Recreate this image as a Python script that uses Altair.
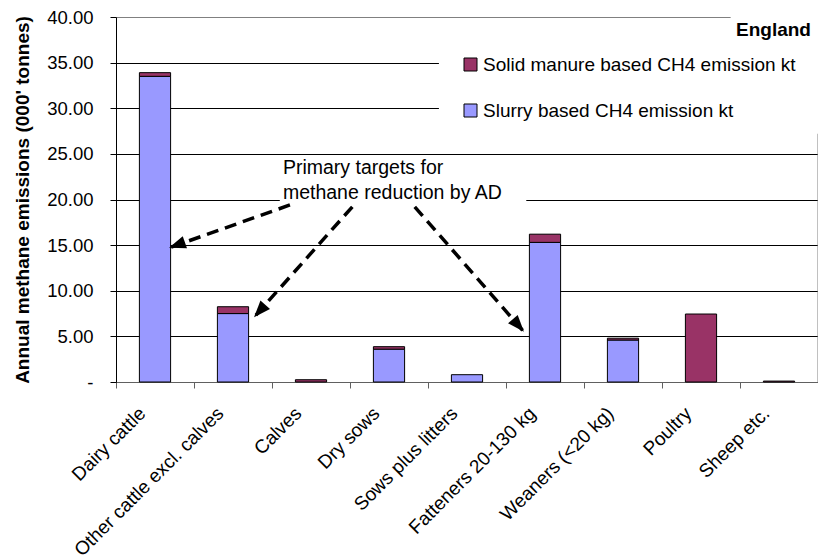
import math
import altair as alt
import pandas as pd

# Livestock categories and CH4 emissions (kt) by manure type
categories = [
    "Dairy cattle",
    "Other cattle excl. calves",
    "Calves",
    "Dry sows",
    "Sows plus litters",
    "Fatteners 20-130 kg",
    "Weaners (<20 kg)",
    "Poultry",
    "Sheep etc.",
]
slurry = [33.5, 7.5, 0.0, 3.6, 0.8, 15.3, 4.6, 0.0, 0.0]
solid = [0.4, 0.75, 0.25, 0.27, 0.0, 0.9, 0.2, 7.45, 0.1]

SOLID = "Solid manure based CH4 emission kt"
SLURRY = "Slurry based CH4 emission kt"
y_ticks = [0, 5, 10, 15, 20, 25, 30, 35, 40]

# Annotation geometry in data units (x: category index scale 0..9, y: kt)
arrow_x1 = [2.23, 3.03, 3.83]
arrow_y1 = [19.4, 19.2, 19.2]
arrow_x2 = [0.68, 1.77, 5.23]
arrow_y2 = [14.7, 7.1, 5.5]
note_text = "Primary targets for\nmethane reduction by AD"
note_x, note_y = 2.14, 23.4

# White boxes behind the note, the legend and the region title
box_x = [2.1, 4.14, 7.88]
box_x2 = [5.26, 9.05, 9.05]
box_y = [19.5, 27.2, 37.4]
box_y2 = [24.4, 37.6, 40.3]

W, H = 702, 365
FONT = "Liberation Sans"

rows = []
for i, c in enumerate(categories):
    rows.append({"category": c, "series": SLURRY, "value": slurry[i], "order": 0})
    rows.append({"category": c, "series": SOLID, "value": solid[i], "order": 1})
bars_df = pd.DataFrame(rows)

px_x = W / 9.0
px_y = H / 40.0
angles = []
for x1, y1, x2, y2 in zip(arrow_x1, arrow_y1, arrow_x2, arrow_y2):
    dx = (x2 - x1) * px_x
    dy = -(y2 - y1) * px_y
    angles.append(math.degrees(math.atan2(dx, -dy)) % 360)
arrows_df = pd.DataFrame({"x1": arrow_x1, "y1": arrow_y1, "x2": arrow_x2, "y2": arrow_y2, "angle": angles})
boxes_df = pd.DataFrame({"x": box_x, "x2": box_x2, "y": box_y, "y2": box_y2})

xq = alt.Scale(domain=[0, 9], nice=False, zero=False)
yq = alt.Scale(domain=[0, 40], nice=False)

bars = alt.Chart(bars_df).mark_bar(
    stroke="black", strokeWidth=1, width=alt.RelativeBandSize(0.4)
).encode(
    x=alt.X(
        "category:N",
        sort=categories,
        title=None,
        scale=alt.Scale(paddingInner=0, paddingOuter=0),
        axis=alt.Axis(
            labelAngle=-45,
            labelAlign="right",
            labelBaseline="middle",
            labelFont=FONT,
            labelFontSize=19,
            labelColor="black",
            labelPadding=22,
            labelOffset=-13,
            tickBand="extent",
            tickSize=6,
            tickColor="#606060",
            domainColor="#606060",
            labelLimit=400,
            grid=False,
        ),
    ),
    y=alt.Y(
        "value:Q",
        stack="zero",
        scale=yq,
        axis=alt.Axis(
            values=y_ticks,
            labelExpr="datum.value == 0 ? '-' : format(datum.value, '.2f')",
            labelFont=FONT,
            labelFontSize=18.5,
            labelColor="black",
            labelPadding=17,
            tickSize=6,
            tickColor="black",
            domainColor="black",
            grid=True,
            gridColor=alt.condition("datum.value == 40", alt.value("#808080"), alt.value("#000000")),
            gridWidth=1,
            title="Annual methane emissions (000' tonnes)",
            titleFont=FONT,
            titleFontSize=19,
            titleFontWeight="bold",
            titleColor="black",
            titlePadding=14,
        ),
    ),
    color=alt.Color(
        "series:N",
        scale=alt.Scale(domain=[SOLID, SLURRY], range=["#993366", "#9999FF"]),
        legend=alt.Legend(
            title=None,
            orient="none",
            legendX=345,
            legendY=38,
            symbolType="square",
            symbolSize=169,
            symbolStrokeColor="black",
            symbolStrokeWidth=1,
            symbolOpacity=1,
            labelFont=FONT,
            labelFontSize=19,
            labelColor="black",
            labelOffset=3,
            rowPadding=26,
            padding=0,
            labelLimit=500,
        ),
    ),
    order=alt.Order("order:Q"),
).transform_filter("datum.value > 0")

right_border = alt.Chart(pd.DataFrame({"x": [9.0], "y": [0.0], "y2": [40.0]})).mark_rule(
    color="#808080", strokeWidth=1
).encode(
    x=alt.X("x:Q", scale=xq, axis=None),
    y=alt.Y("y:Q", scale=yq, axis=None),
    y2="y2:Q",
)

boxes = alt.Chart(boxes_df).mark_rect(fill="white", stroke=None).encode(
    x=alt.X("x:Q", scale=xq, axis=None),
    x2="x2:Q",
    y=alt.Y("y:Q", scale=yq, axis=None),
    y2="y2:Q",
)

lines = alt.Chart(arrows_df).mark_rule(
    color="black", strokeWidth=3.5, strokeDash=[12, 7]
).encode(
    x=alt.X("x1:Q", scale=xq, axis=None),
    y=alt.Y("y1:Q", scale=yq, axis=None),
    x2="x2:Q",
    y2="y2:Q",
)

heads = alt.Chart(arrows_df).mark_point(
    shape="M0,0L-0.8,2.1L0.8,2.1Z", filled=True, color="black", opacity=1, size=256
).encode(
    x=alt.X("x2:Q", scale=xq, axis=None),
    y=alt.Y("y2:Q", scale=yq, axis=None),
    angle=alt.Angle("angle:Q", scale=None),
)

note = alt.Chart(pd.DataFrame({"x": [note_x], "y": [note_y], "t": [note_text]})).mark_text(
    font=FONT, fontSize=19.5, color="black", align="left", baseline="middle",
    lineBreak="\n", lineHeight=25,
).encode(
    x=alt.X("x:Q", scale=xq, axis=None),
    y=alt.Y("y:Q", scale=yq, axis=None),
    text="t:N",
)

region = alt.Chart(pd.DataFrame({"x": [8.91], "y": [38.6], "t": ["England"]})).mark_text(
    font=FONT, fontSize=19, fontWeight="bold", color="black", align="right", baseline="middle"
).encode(
    x=alt.X("x:Q", scale=xq, axis=None),
    y=alt.Y("y:Q", scale=yq, axis=None),
    text="t:N",
)

chart = alt.layer(bars, right_border, boxes, lines, heads, note, region).resolve_scale(
    x="independent"
).resolve_axis(
    x="independent", y="independent"
).properties(
    width=W,
    height=H,
    autosize=alt.AutoSizeParams(type="none"),
    padding={"left": 116, "top": 17, "right": 0, "bottom": 176},
).configure_view(
    strokeWidth=0
).configure(
    background="white"
)

chart.save("out.html", embed_options={"renderer": "svg", "actions": False})
